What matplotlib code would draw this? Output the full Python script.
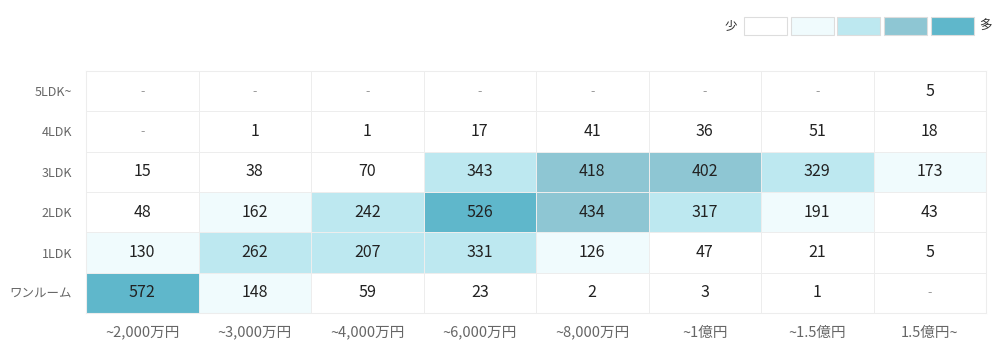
import numpy as np
import matplotlib
matplotlib.use("Agg")
import matplotlib.pyplot as plt
from matplotlib.colors import ListedColormap, BoundaryNorm
from matplotlib.patches import Rectangle

plt.rcParams['font.family'] = ['Noto Sans CJK JP', 'DejaVu Sans']

# data (top row first), None = "-"
row_labels = ["5LDK~", "4LDK", "3LDK", "2LDK", "1LDK", "ワンルーム"]
col_labels = ["~2,000万円", "~3,000万円", "~4,000万円", "~6,000万円",
              "~8,000万円", "~1億円", "~1.5億円", "1.5億円~"]
row_5ldk = [None, None, None, None, None, None, None, 5]
row_4ldk = [None, 1, 1, 17, 41, 36, 51, 18]
row_3ldk = [15, 38, 70, 343, 418, 402, 329, 173]
row_2ldk = [48, 162, 242, 526, 434, 317, 191, 43]
row_1ldk = [130, 262, 207, 331, 126, 47, 21, 5]
row_one = [572, 148, 59, 23, 2, 3, 1, None]

bins = [0, 100, 200, 400, 500, 10000]
colors = ["#ffffff", "#f0fbfd", "#bde8f0", "#8ec6d3", "#5fb7cb"]

rows = [row_5ldk, row_4ldk, row_3ldk, row_2ldk, row_1ldk, row_one]
vals = np.array([[np.nan if v is None else v for v in r] for r in rows], dtype=float)

fig = plt.figure(figsize=(10, 3.47), dpi=100)
ax = fig.add_axes([0.086, 1 - 313 / 347, 0.900, 242 / 347])

cmap = ListedColormap(colors)
cmap.set_bad("#ffffff")
norm = BoundaryNorm(bins, cmap.N)
ax.pcolormesh(np.ma.masked_invalid(vals), cmap=cmap, norm=norm,
              edgecolors="#ededed", linewidth=0.6)
ax.set_xlim(0, len(col_labels))
ax.set_ylim(len(row_labels), 0)

for i, r in enumerate(rows):
    for j, v in enumerate(r):
        if v is None:
            ax.text(j + 0.5, i + 0.5, "-", ha="center", va="center",
                    fontsize=9, color="#999999")
        else:
            ax.text(j + 0.5, i + 0.5, str(v), ha="center", va="center",
                    fontsize=11.5, color="#222222")

ax.set_xticks(np.arange(len(col_labels)) + 0.5)
ax.set_xticklabels(col_labels, fontsize=10.5, color="#666666")
ax.set_yticks(np.arange(len(row_labels)) + 0.5)
ax.set_yticklabels(row_labels, fontsize=9, color="#666666")
ax.tick_params(length=0)
ax.tick_params(axis="y", pad=10)
ax.tick_params(axis="x", pad=9)
for s in ax.spines.values():
    s.set_color("#ededed")
    s.set_linewidth(0.8)

# legend
box_x = [744, 791, 837, 884, 931]
for x, c in zip(box_x, colors):
    fig.patches.append(Rectangle((x / 1000, 1 - 35 / 347), 43 / 1000, 18 / 347,
                                 transform=fig.transFigure, facecolor=c,
                                 edgecolor="#dddddd", linewidth=0.8))
fig.text(731 / 1000, 1 - 26 / 347, "少", ha="center", va="center",
         fontsize=9, color="#333333")
fig.text(985 / 1000, 1 - 26 / 347, "多", ha="center", va="center",
         fontsize=9, color="#333333")

fig.savefig("out.png", dpi=100, facecolor="white")
